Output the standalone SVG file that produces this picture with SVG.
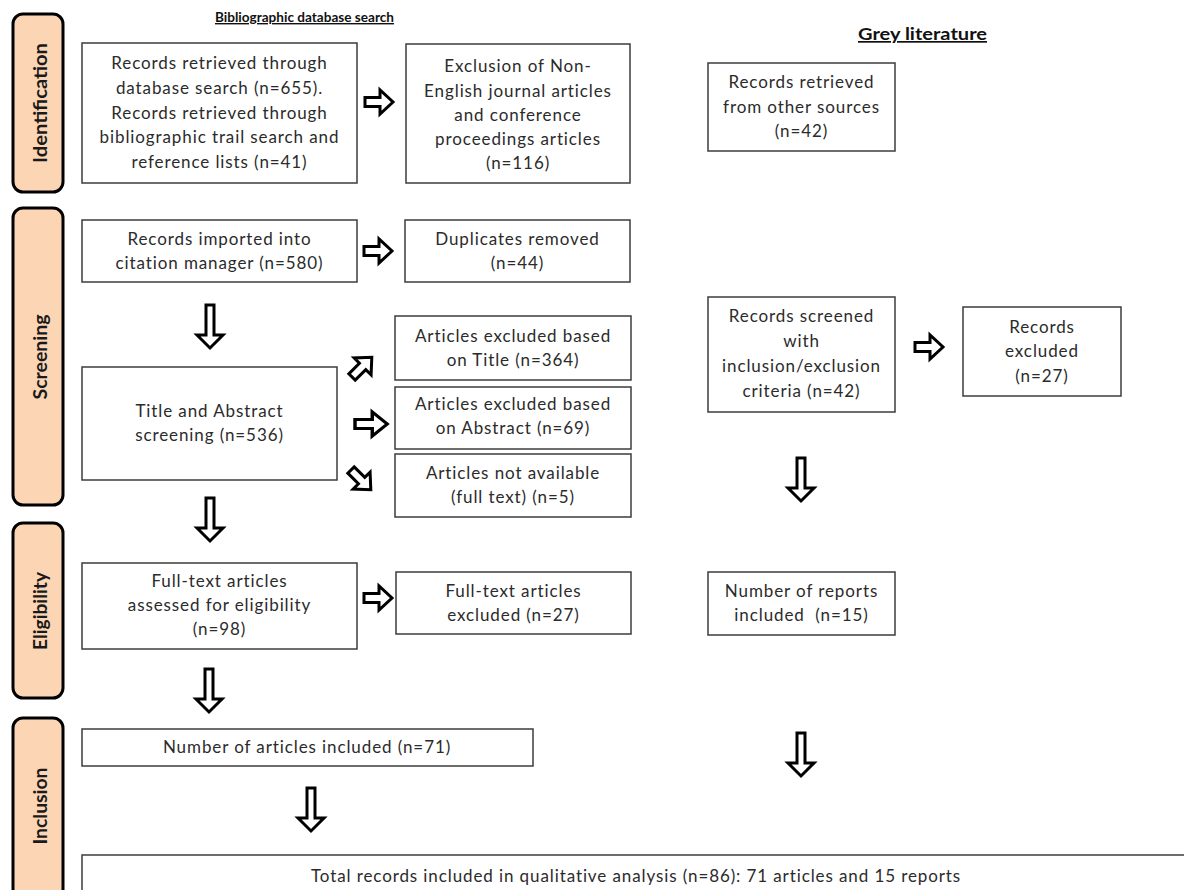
<svg xmlns="http://www.w3.org/2000/svg" width="1184" height="890" viewBox="0 0 1184 890">
  <style>
    .phase { fill: #fcd5b4; stroke: #000; stroke-width: 3; }
    .phase-label { font-family: Lato, "Liberation Sans", sans-serif; font-weight: bold; font-size: 18px; fill: #1a1a1a; text-anchor: middle; dominant-baseline: central; }
    .box { fill: #fff; stroke: #3c3c3c; stroke-width: 1.5; }
    .t { font-family: Lato, "Liberation Sans", sans-serif; font-size: 17px; letter-spacing: 0.9px; fill: #2b2b2b; text-anchor: middle; }
    .head { font-family: Lato, "Liberation Sans", sans-serif; font-weight: bold; font-size: 14px; fill: #111; text-decoration: underline; }
    .head-lg { font-size: 17px; }
    .arrow { fill: #fff; stroke: #000; stroke-width: 3; stroke-linejoin: miter; }
  </style>
  <defs>
    <!-- outlined block arrow pointing right, origin at tail centre -->
    <path id="arrR" d="M0,-4.5 H15 V-12 L28,0 L15,12 V4.5 H0 Z"/>
    <!-- outlined block arrow pointing down, origin at tail centre -->
    <path id="arrD" d="M-4,0 H4 V30 H13 L0,43 L-13,30 H-4 Z"/>
  </defs>

  <rect width="1184" height="890" fill="#fff"/>

  <!-- column headings -->
  <text class="head" x="215" y="22" textLength="179" lengthAdjust="spacingAndGlyphs">Bibliographic database search</text>
  <text class="head head-lg" x="858" y="40" textLength="129" lengthAdjust="spacingAndGlyphs">Grey literature</text>

  <!-- phase bands -->
  <g id="phase-identification">
    <rect class="phase" x="13" y="14" width="50" height="178" rx="10"/>
    <text class="phase-label" transform="translate(40,103) rotate(-90)" textLength="120" lengthAdjust="spacingAndGlyphs">Identification</text>
  </g>
  <g id="phase-screening">
    <rect class="phase" x="13" y="208" width="50" height="297" rx="10"/>
    <text class="phase-label" transform="translate(40,357) rotate(-90)" textLength="85" lengthAdjust="spacingAndGlyphs">Screening</text>
  </g>
  <g id="phase-eligibility">
    <rect class="phase" x="13" y="523" width="50" height="175" rx="10"/>
    <text class="phase-label" transform="translate(40,611) rotate(-90)" textLength="78" lengthAdjust="spacingAndGlyphs">Eligibility</text>
  </g>
  <g id="phase-inclusion">
    <rect class="phase" x="13" y="718" width="50" height="200" rx="10"/>
    <text class="phase-label" transform="translate(40,806) rotate(-90)" textLength="77" lengthAdjust="spacingAndGlyphs">Inclusion</text>
  </g>

  <!-- bibliographic database search column -->
  <g id="db-records">
    <rect class="box" x="82" y="43" width="275" height="140"/>
    <text class="t" x="219.5" y="69">Records retrieved through</text>
    <text class="t" x="219.5" y="94">database search (n=655).</text>
    <text class="t" x="219.5" y="119">Records retrieved through</text>
    <text class="t" x="219.5" y="143">bibliographic trail search and</text>
    <text class="t" x="219.5" y="168">reference lists (n=41)</text>
  </g>
  <g id="non-english">
    <rect class="box" x="406" y="44" width="224" height="139"/>
    <text class="t" x="518" y="72">Exclusion of Non-</text>
    <text class="t" x="518" y="97">English journal articles</text>
    <text class="t" x="518" y="121">and conference</text>
    <text class="t" x="518" y="145">proceedings articles</text>
    <text class="t" x="518" y="169">(n=116)</text>
  </g>
  <g id="imported">
    <rect class="box" x="82" y="220" width="275" height="62"/>
    <text class="t" x="219.5" y="245">Records imported into</text>
    <text class="t" x="219.5" y="269">citation manager (n=580)</text>
  </g>
  <g id="duplicates">
    <rect class="box" x="405" y="220" width="225" height="62"/>
    <text class="t" x="517.5" y="245">Duplicates removed</text>
    <text class="t" x="517.5" y="269">(n=44)</text>
  </g>
  <g id="title-abstract">
    <rect class="box" x="82" y="367" width="255" height="113"/>
    <text class="t" x="209.5" y="417">Title and Abstract</text>
    <text class="t" x="209.5" y="441">screening (n=536)</text>
  </g>
  <g id="excl-title">
    <rect class="box" x="395" y="316" width="236" height="64"/>
    <text class="t" x="513" y="342">Articles excluded based</text>
    <text class="t" x="513" y="366">on Title (n=364)</text>
  </g>
  <g id="excl-abstract">
    <rect class="box" x="395" y="387" width="236" height="62"/>
    <text class="t" x="513" y="410">Articles excluded based</text>
    <text class="t" x="513" y="434">on Abstract (n=69)</text>
  </g>
  <g id="not-available">
    <rect class="box" x="395" y="454" width="236" height="63"/>
    <text class="t" x="513" y="479">Articles not available</text>
    <text class="t" x="513" y="503">(full text) (n=5)</text>
  </g>
  <g id="fulltext-assessed">
    <rect class="box" x="82" y="563" width="275" height="86"/>
    <text class="t" x="219.5" y="587">Full-text articles</text>
    <text class="t" x="219.5" y="611">assessed for eligibility</text>
    <text class="t" x="219.5" y="635">(n=98)</text>
  </g>
  <g id="fulltext-excluded">
    <rect class="box" x="396" y="572" width="235" height="62"/>
    <text class="t" x="513.5" y="597">Full-text articles</text>
    <text class="t" x="513.5" y="621">excluded (n=27)</text>
  </g>
  <g id="articles-included">
    <rect class="box" x="82" y="729" width="451" height="37"/>
    <text class="t" x="307" y="753">Number of articles included (n=71)</text>
  </g>

  <!-- grey literature column -->
  <g id="grey-records">
    <rect class="box" x="708" y="63" width="187" height="88"/>
    <text class="t" x="801.5" y="88">Records retrieved</text>
    <text class="t" x="801.5" y="113">from other sources</text>
    <text class="t" x="801.5" y="137">(n=42)</text>
  </g>
  <g id="grey-screened">
    <rect class="box" x="708" y="297" width="187" height="115"/>
    <text class="t" x="801.5" y="322">Records screened</text>
    <text class="t" x="801.5" y="347">with</text>
    <text class="t" x="801.5" y="372">inclusion/exclusion</text>
    <text class="t" x="801.5" y="397">criteria (n=42)</text>
  </g>
  <g id="grey-excluded">
    <rect class="box" x="963" y="307" width="158" height="89"/>
    <text class="t" x="1042" y="333">Records</text>
    <text class="t" x="1042" y="357">excluded</text>
    <text class="t" x="1042" y="382">(n=27)</text>
  </g>
  <g id="grey-reports">
    <rect class="box" x="708" y="572" width="187" height="63"/>
    <text class="t" x="801.5" y="597">Number of reports</text>
    <text class="t" x="801.5" y="621" xml:space="preserve">included  (n=15)</text>
  </g>

  <!-- combined result -->
  <g id="total">
    <rect class="box" x="82" y="855" width="1110" height="60"/>
    <text class="t" x="636" y="882">Total records included in qualitative analysis (n=86): 71 articles and 15 reports</text>
  </g>

  <!-- connectors -->
  <g id="connectors">
    <use href="#arrR" class="arrow" transform="translate(365,102)"/>
    <use href="#arrR" class="arrow" transform="translate(364,251)"/>
    <use href="#arrR" class="arrow" transform="translate(355,424) scale(1.15,1)"/>
    <use href="#arrR" class="arrow" transform="translate(364,598)"/>
    <use href="#arrR" class="arrow" transform="translate(915,347)"/>
    <use href="#arrR" class="arrow" transform="translate(352,377) rotate(-45)"/>
    <use href="#arrR" class="arrow" transform="translate(351,470) rotate(45)"/>
    <use href="#arrD" class="arrow" transform="translate(210,305)"/>
    <use href="#arrD" class="arrow" transform="translate(210,498)"/>
    <use href="#arrD" class="arrow" transform="translate(209,669)"/>
    <use href="#arrD" class="arrow" transform="translate(311,788)"/>
    <use href="#arrD" class="arrow" transform="translate(801,458)"/>
    <use href="#arrD" class="arrow" transform="translate(801,733)"/>
  </g>
</svg>
